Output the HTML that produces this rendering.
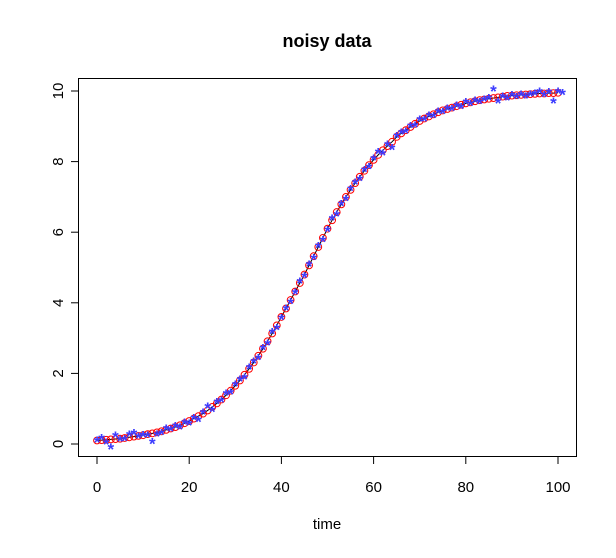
<!DOCTYPE html>
<html><head><meta charset="utf-8"><style>
html,body{margin:0;padding:0;background:#fff;}
svg text{font-family:"Liberation Sans",Arial,sans-serif;}
</style></head><body>
<svg id="chart" width="616" height="553" viewBox="0 0 616 553" xmlns="http://www.w3.org/2000/svg">
<rect width="616" height="553" fill="#fff"/>
<text x="327" y="47" text-anchor="middle" font-size="18" font-weight="bold">noisy data</text>
<text x="327" y="529" text-anchor="middle" font-size="15">time</text>
<rect x="78.5" y="78.5" width="498" height="378" fill="none" stroke="#000" stroke-width="1"/>
<g id="axes"></g>
<g id="marks"></g>
</svg>
<script>
const xTicks = [0,20,40,60,80,100];
const yTicks = [0,2,4,6,8,10];
const fitted = [0.10,0.11,0.12,0.13,0.14,0.15,0.17,0.19,0.21,0.23,0.25,
0.28,0.30,0.33,0.36,0.40,0.44,0.48,0.53,0.59,0.65,
0.72,0.79,0.86,0.95,1.05,1.15,1.26,1.38,1.51,1.65,
1.80,1.96,2.13,2.31,2.50,2.70,2.91,3.13,3.36,3.60,
3.84,4.08,4.32,4.56,4.80,5.06,5.32,5.58,5.84,6.10,
6.34,6.57,6.79,7.00,7.20,7.39,7.57,7.74,7.90,8.05,
8.19,8.32,8.44,8.56,8.70,8.80,8.89,8.98,9.07,9.15,
9.22,9.28,9.34,9.40,9.45,9.49,9.53,9.57,9.61,9.65,
9.68,9.71,9.74,9.76,9.78,9.80,9.82,9.84,9.86,9.87,
9.88,9.89,9.90,9.91,9.92,9.93,9.93,9.94,9.94,9.95];
const noisy = [0.12,0.18,0.05,-0.08,0.25,0.14,0.15,0.28,0.32,0.22,0.27,
0.26,0.07,0.28,0.33,0.45,0.43,0.52,0.48,0.63,0.60,
0.75,0.70,0.90,1.08,0.98,1.20,1.24,1.45,1.48,1.70,
1.84,1.90,2.18,2.35,2.45,2.74,2.86,3.18,3.30,3.58,
3.85,4.04,4.30,4.62,4.78,5.10,5.28,5.62,5.80,6.08,
6.40,6.52,6.82,6.95,7.24,7.42,7.52,7.78,7.86,8.10,
8.28,8.24,8.50,8.40,8.74,8.84,8.86,9.02,9.04,9.20,
9.20,9.32,9.30,9.44,9.42,9.52,9.50,9.60,9.56,9.70,
9.65,9.74,9.70,9.78,9.82,10.05,9.72,9.86,9.80,9.90,
9.84,9.92,9.86,9.92,9.95,10.00,9.90,9.98,9.72,10.00,9.96];
const NS='http://www.w3.org/2000/svg';
const xs = v => 97 + v*(558-97)/100;
const ys = v => 444 - v*(444-91)/10;
function mk(tag, attrs, parent){const e=document.createElementNS(NS,tag);for(const k in attrs)e.setAttribute(k,attrs[k]);parent.appendChild(e);return e;}
const axes=document.getElementById('axes'), marks=document.getElementById('marks');
mk('line',{x1:xs(0),x2:xs(100),y1:456.5,y2:456.5,stroke:'#000'},axes);
xTicks.forEach(t=>{
  const l=mk('line',{x1:xs(t),x2:xs(t),y1:456.5,y2:464,stroke:'#000'},axes);
  
  
  const tx=mk('text',{x:xs(t),y:492,'text-anchor':'middle','font-size':'15'},axes);
  tx.textContent=t;
  
  
});
mk('line',{x1:78.5,x2:78.5,y1:ys(0),y2:ys(10),stroke:'#000'},axes);
yTicks.forEach(t=>{
  const l=mk('line',{x1:71,x2:78.5,y1:ys(t),y2:ys(t),stroke:'#000'},axes);
  
  
  const tx=mk('text',{x:63,y:ys(t),'text-anchor':'middle','font-size':'15',transform:`rotate(-90 63 ${ys(t)})`},axes);
  tx.textContent=t;
  
  
});
const line=mk('polyline',{points:fitted.map((v,i)=>xs(i)+','+ys(v)).join(' '),fill:'none',stroke:'#000','stroke-width':1},marks);


fitted.forEach((v,i)=>{
  const c=mk('circle',{cx:xs(i),cy:ys(v),r:3.4,fill:'none',stroke:'#f00','stroke-width':1},marks);
  
  
});
noisy.forEach((v,i)=>{
  const t=mk('text',{x:xs(i),y:ys(v)+8,'text-anchor':'middle','font-size':'17','font-weight':'bold',fill:'#3c3cff'},marks);
  t.textContent='*';
  
  
});
</script>
</body></html>
